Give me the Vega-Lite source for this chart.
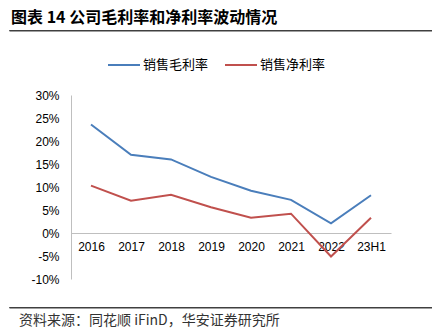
{
  "$schema": "https://vega.github.io/schema/vega-lite/v6.json",
  "padding": {"left": 8, "top": 9, "right": 0, "bottom": 0},
  "spacing": 17,
  "resolve": {"legend": {"color": "independent"}},
  "config": {"view": {"stroke": null}, "font": "Liberation Sans"},
  "vconcat": [
    {
      "title": {"text": "图表 14 公司毛利率和净利率波动情况", "anchor": "start", "fontSize": 16, "font": "Noto Sans CJK SC", "fontWeight": "bold", "color": "#000000", "offset": 4, "dx": 2},
      "width": 424,
      "height": 0.5,
      "view": {"stroke": "#404040", "strokeWidth": 1},
      "data": {"values": [{}]},
      "mark": {"type": "text", "fontSize": 0},
      "encoding": {"text": {"value": ""}}
    },
    {
      "width": 382,
      "height": 184,
      "data": {"values": [
        {"year": "2016", "series": "销售毛利率", "value": 23.6},
        {"year": "2017", "series": "销售毛利率", "value": 17.0},
        {"year": "2018", "series": "销售毛利率", "value": 16.0},
        {"year": "2019", "series": "销售毛利率", "value": 12.2},
        {"year": "2020", "series": "销售毛利率", "value": 9.2},
        {"year": "2021", "series": "销售毛利率", "value": 7.2},
        {"year": "2022", "series": "销售毛利率", "value": 2.1},
        {"year": "23H1", "series": "销售毛利率", "value": 8.2},
        {"year": "2016", "series": "销售净利率", "value": 10.3},
        {"year": "2017", "series": "销售净利率", "value": 7.0},
        {"year": "2018", "series": "销售净利率", "value": 8.3},
        {"year": "2019", "series": "销售净利率", "value": 5.6},
        {"year": "2020", "series": "销售净利率", "value": 3.3},
        {"year": "2021", "series": "销售净利率", "value": 4.2},
        {"year": "2022", "series": "销售净利率", "value": -5.1},
        {"year": "23H1", "series": "销售净利率", "value": 3.3}
      ]},
      "mark": {"type": "line", "strokeWidth": 2},
      "encoding": {
        "x": {"field": "year", "type": "ordinal", "sort": null,
          "scale": {"type": "point", "range": [62, 382], "padding": 0.5},
          "axis": {"title": null, "offset": -46, "ticks": false, "labelAngle": 0, "labelPadding": 8, "labelFontSize": 12, "labelColor": "#000000", "domainColor": "#bfbfbf", "grid": false}},
        "y": {"field": "value", "type": "quantitative", "scale": {"domain": [-10, 30], "nice": false},
          "axis": {"title": null, "offset": -62, "values": [-10, -5, 0, 5, 10, 15, 20, 25, 30], "labelExpr": "datum.value + '%'", "ticks": false, "grid": false, "labelPadding": 12, "labelFontSize": 12, "labelColor": "#000000", "domainColor": "#bfbfbf"}},
        "color": {"field": "series", "type": "nominal", "sort": ["销售毛利率", "销售净利率"],
          "scale": {"domain": ["销售毛利率", "销售净利率"], "range": ["#4a7ebb", "#c0504d"]},
          "legend": {"title": null, "orient": "none", "legendX": 98, "legendY": -47, "direction": "horizontal", "symbolType": "stroke", "symbolSize": 1024, "symbolStrokeWidth": 2, "labelFont": "Noto Sans CJK SC", "labelFontSize": 13, "labelColor": "#000000", "labelOffset": 2, "columnPadding": 12, "padding": 0}}
      }
    },
    {
      "title": {"text": "资料来源：同花顺 iFinD，华安证券研究所", "orient": "bottom", "anchor": "start", "fontSize": 14, "font": "Noto Sans CJK SC", "fontWeight": "normal", "color": "#333333", "offset": 6, "dx": 10},
      "width": 424,
      "height": 0.5,
      "view": {"stroke": "#404040", "strokeWidth": 1},
      "data": {"values": [{}]},
      "mark": {"type": "text", "fontSize": 4, "baseline": "bottom"},
      "encoding": {"text": {"value": ""}}
    }
  ]
}
